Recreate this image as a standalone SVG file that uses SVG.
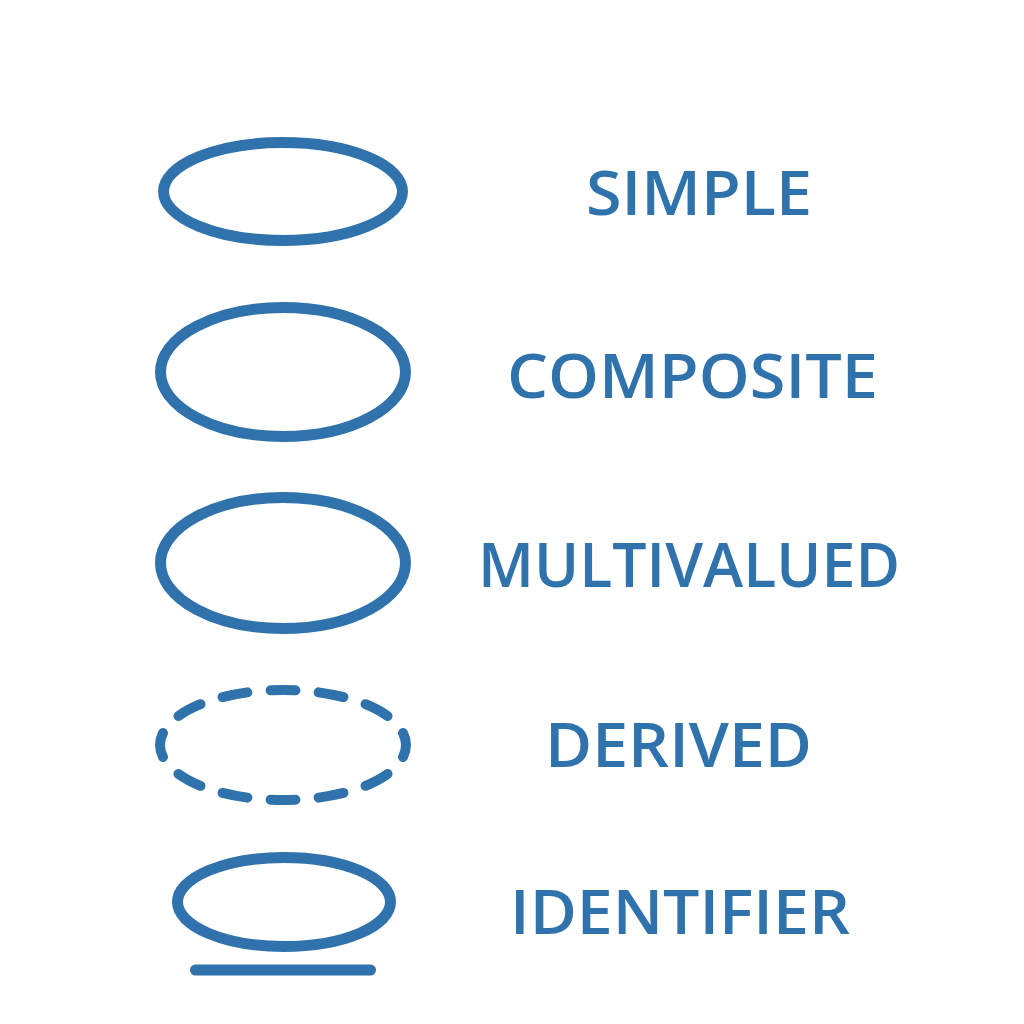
<svg xmlns="http://www.w3.org/2000/svg" width="1024" height="1024" viewBox="0 0 1024 1024">
<style>
.shape{fill:none;stroke:#3073ac;stroke-width:11}
.dash{stroke-dasharray:25 23;stroke-dashoffset:12.5;stroke-linecap:round;stroke-width:10}
.lbl{font-family:"Open Sans","Noto Sans","Liberation Sans",sans-serif;font-weight:600;font-size:62px;fill:#3073ac}
</style>
<rect width="1024" height="1024" fill="#ffffff"/>
<g id="simple">
<ellipse class="shape" cx="283" cy="191.5" rx="119.5" ry="49"/>
<text class="lbl" x="586" y="215" textLength="226" lengthAdjust="spacingAndGlyphs">SIMPLE</text>
</g>
<g id="composite">
<ellipse class="shape" cx="283" cy="372" rx="122.5" ry="64.5"/>
<text class="lbl" x="507" y="398" textLength="371" lengthAdjust="spacingAndGlyphs">COMPOSITE</text>
</g>
<g id="multivalued">
<ellipse class="shape" cx="283" cy="563" rx="122.5" ry="65.5"/>
<text class="lbl" x="478" y="587" textLength="422" lengthAdjust="spacingAndGlyphs">MULTIVALUED</text>
</g>
<g id="derived">
<ellipse class="shape dash" cx="283" cy="745" rx="123" ry="55" pathLength="576"/>
<text class="lbl" x="545" y="767" textLength="267" lengthAdjust="spacingAndGlyphs">DERIVED</text>
</g>
<g id="identifier">
<ellipse class="shape" cx="284" cy="902" rx="106.5" ry="44.5"/>
<line class="shape" x1="195.5" y1="970" x2="370.5" y2="970" stroke-linecap="round"/>
<text class="lbl" x="510" y="934" textLength="340" lengthAdjust="spacingAndGlyphs">IDENTIFIER</text>
</g>
<g id="connectors"/>
</svg>
